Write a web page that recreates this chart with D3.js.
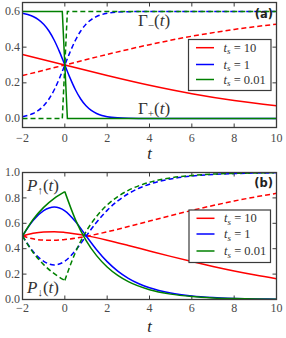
<!DOCTYPE html>
<html><head><meta charset="utf-8">
<script src="https://cdnjs.cloudflare.com/ajax/libs/d3/7.8.5/d3.min.js"></script>
<style>
body{margin:0;background:#fff;}
svg text{font-family:"Liberation Serif","DejaVu Serif",serif;}
</style></head>
<body>
<svg id="c" width="286" height="338"></svg>
<script>
// ---------- data ----------
const xTicks = [-2, 0, 2, 4, 6, 8, 10];
const yTicksTop = [0.0, 0.2, 0.4, 0.6];
const yTicksBot = [0.0, 0.2, 0.4, 0.6, 0.8, 1.0];
const legendLabels = ["10", "1", "0.01"];
const seriesColors = ["#ff0000", "#0000ff", "#008000"];

// panel (a): rates Γ+(t) (solid) and Γ−(t) (dashed)
const tRedA = [-2, 0, 2, 4, 6, 8, 10];
const gPlusRed = [0.3592, 0.3, 0.2408, 0.1860, 0.1389, 0.1008, 0.0715];
const gMinusRed = [0.2408, 0.3, 0.3592, 0.4140, 0.4611, 0.4992, 0.5285];

const tBlueA = [-2, -1.75, -1.5, -1.25, -1, -0.75, -0.5, -0.25, 0, 0.25, 0.5, 0.75, 1, 1.25, 1.5, 1.75, 2, 2.5, 3, 4, 6, 10];
const gPlusBlue = [0.5892, 0.5824, 0.5715, 0.5545, 0.5285, 0.4905, 0.4386, 0.3735, 0.3, 0.2265, 0.1614, 0.1095, 0.0715, 0.0455, 0.0285, 0.0176, 0.0108, 0.0040, 0.0015, 0.0002, 0, 0];
const gMinusBlue = [0.0108, 0.0176, 0.0285, 0.0455, 0.0715, 0.1095, 0.1614, 0.2265, 0.3, 0.3735, 0.4386, 0.4905, 0.5285, 0.5545, 0.5715, 0.5824, 0.5892, 0.5960, 0.5985, 0.5998, 0.6, 0.6];

const tGreenA = [-2, -0.12, 0.12, 10];
const gPlusGreen = [0.6, 0.6, 0, 0];
const gMinusGreen = [0, 0, 0.6, 0.6];

// panel (b): populations P↑(t) (solid) and P↓(t) (dashed)
const tRedB = [-2, -1.5, -1, -0.5, 0, 1, 2, 3, 4, 5, 6, 7, 8, 9, 10];
const pUpRed = [0.5, 0.5223, 0.5324, 0.5335, 0.5279, 0.5029, 0.4671, 0.4257, 0.3825, 0.3397, 0.2985, 0.2599, 0.2245, 0.1925, 0.1640];
const pDownRed = [0.5, 0.4777, 0.4676, 0.4665, 0.4721, 0.4971, 0.5329, 0.5743, 0.6175, 0.6603, 0.7015, 0.7401, 0.7755, 0.8075, 0.8360];

const tBlueB = [-2, -1.5, -1, -0.5, 0, 0.5, 1, 1.5, 2, 2.5, 3, 3.5, 4, 5, 6, 7, 8, 9, 10];
const pUpBlue = [0.5, 0.6215, 0.6989, 0.7276, 0.6983, 0.6143, 0.5024, 0.3920, 0.2981, 0.2237, 0.1668, 0.1240, 0.0920, 0.0506, 0.0278, 0.0152, 0.0084, 0.0046, 0.0025];
const pDownBlue = [0.5, 0.3785, 0.3011, 0.2724, 0.3017, 0.3857, 0.4976, 0.6080, 0.7019, 0.7763, 0.8332, 0.8760, 0.9080, 0.9494, 0.9722, 0.9848, 0.9916, 0.9954, 0.9975];

const tGreenB = [-2, -1.5, -1, -0.5, 0, 0.5, 1, 1.5, 2, 2.5, 3, 4, 5, 6, 7, 8, 9, 10];
const pUpGreen = [0.5, 0.6296, 0.7256, 0.7967, 0.8494, 0.6292, 0.4661, 0.3454, 0.2558, 0.1895, 0.1404, 0.0770, 0.0423, 0.0232, 0.0127, 0.0070, 0.0038, 0.0021];
const pDownGreen = [0.5, 0.3704, 0.2744, 0.2033, 0.1506, 0.3708, 0.5339, 0.6546, 0.7442, 0.8105, 0.8596, 0.9230, 0.9577, 0.9768, 0.9873, 0.9930, 0.9962, 0.9979];

// ---------- drawing ----------
const svg = d3.select("#c");
const frameColor = "#3a3a3a";
const textColor = "#4a4a4a";
const x = d3.scaleLinear().domain([-2, 10]).range([22.5, 276.5]);

function fmtX(v){ return v < 0 ? "\u2212" + Math.abs(v) : String(v); }

function panel(y, yTicks, labelBase, tLabelBase) {
  const g = svg.append("g");
  const [y0, y1] = y.range();
  const x0 = x.range()[0], x1 = x.range()[1];
  const tl = 4;
  xTicks.forEach(v => {
    g.append("line").attr("x1", x(v)).attr("x2", x(v)).attr("y1", y0).attr("y2", y0 - tl)
      .attr("stroke", frameColor).attr("stroke-width", 1);
    g.append("line").attr("x1", x(v)).attr("x2", x(v)).attr("y1", y1).attr("y2", y1 + tl)
      .attr("stroke", frameColor).attr("stroke-width", 1);
    g.append("text").attr("x", x(v)).attr("y", labelBase).attr("text-anchor", "middle")
      .attr("font-size", 12).attr("fill", textColor).text(fmtX(v));
  });
  yTicks.forEach(v => {
    g.append("line").attr("x1", x0).attr("x2", x0 + tl).attr("y1", y(v)).attr("y2", y(v))
      .attr("stroke", frameColor).attr("stroke-width", 1);
    g.append("line").attr("x1", x1).attr("x2", x1 - tl).attr("y1", y(v)).attr("y2", y(v))
      .attr("stroke", frameColor).attr("stroke-width", 1);
    g.append("text").attr("x", 20).attr("y", y(v) + 3.6).attr("text-anchor", "end")
      .attr("font-size", 12).attr("fill", textColor).text(v.toFixed(1));
  });
  g.append("text").attr("x", x(4)).attr("y", tLabelBase).attr("text-anchor", "middle")
    .attr("font-size", 16.5).attr("font-style", "italic").attr("fill", "#222").text("t");
  return g;
}

function drawLine(g, y, ts, vs, color, dashed, curve, splitAt) {
  const pts = ts.map((t, i) => [t, vs[i]]);
  const segs = [];
  if (splitAt !== undefined) {
    segs.push(pts.filter(p => p[0] <= splitAt));
    segs.push(pts.filter(p => p[0] >= splitAt));
  } else segs.push(pts);
  const line = d3.line().x(d => x(d[0])).y(d => y(d[1])).curve(curve);
  const path = segs.map(s => line(s)).join("");
  g.append("path").attr("d", path).attr("fill", "none").attr("stroke", color)
    .attr("stroke-width", 1.5).attr("stroke-dasharray", dashed ? "5,3" : null)
    .attr("stroke-linejoin", "miter");
}

function frame(g, y) {
  const [y0, y1] = y.range();
  g.append("rect").attr("x", x.range()[0]).attr("y", y1).attr("width", x.range()[1] - x.range()[0])
    .attr("height", y0 - y1).attr("fill", "none").attr("stroke", frameColor).attr("stroke-width", 1.3);
}

function legend(g, bx, by, bw, bh, rowYs) {
  g.append("rect").attr("x", bx).attr("y", by).attr("width", bw).attr("height", bh)
    .attr("fill", "#fff").attr("stroke", frameColor).attr("stroke-width", 1.2);
  legendLabels.forEach((lab, i) => {
    g.append("line").attr("x1", bx + 7.5).attr("x2", bx + 25.5).attr("y1", rowYs[i]).attr("y2", rowYs[i])
      .attr("stroke", seriesColors[i]).attr("stroke-width", 1.5);
    const t = g.append("text").attr("x", bx + 35).attr("y", rowYs[i] + 4).attr("font-size", 12.5).attr("fill", "#333");
    t.append("tspan").attr("font-style", "italic").text("t");
    t.append("tspan").attr("font-style", "italic").attr("font-size", 9).attr("dy", 2.5).text("s");
    t.append("tspan").attr("dy", -2.5).text(" = " + lab);
  });
}

function tagLabel(g, xx, yy, s) {
  g.append("text").attr("x", xx).attr("y", yy).attr("text-anchor", "end")
    .attr("font-weight", "bold").attr("font-size", 11.5).attr("fill", "#222")
    .style("font-family", "'DejaVu Sans', sans-serif").text(s);
}

// Panel (a)
const yA = d3.scaleLinear().domain([-0.05, 0.65]).range([127.5, 2.5]);
const gA = panel(yA, yTicksTop, 141.5, 158.5);
const mono = d3.curveMonotoneX;
drawLine(gA, yA, tRedA, gPlusRed, seriesColors[0], false, mono);
drawLine(gA, yA, tRedA, gMinusRed, seriesColors[0], true, mono);
drawLine(gA, yA, tBlueA, gPlusBlue, seriesColors[1], false, mono);
drawLine(gA, yA, tBlueA, gMinusBlue, seriesColors[1], true, mono);
drawLine(gA, yA, tGreenA, gPlusGreen, seriesColors[2], false, d3.curveLinear);
drawLine(gA, yA, tGreenA, gMinusGreen, seriesColors[2], true, d3.curveLinear);
frame(gA, yA);
function gammaLabel(g, xx, yy, sub) {
  const t = g.append("text").attr("x", xx).attr("y", yy).attr("font-size", 17).attr("fill", "#333");
  t.append("tspan").text("\u0393");
  t.append("tspan").attr("font-size", 11).attr("dy", 3).text(sub);
  t.append("tspan").attr("dy", -3).text("(");
  t.append("tspan").attr("font-style", "italic").text("t");
  t.append("tspan").text(")");
}
gammaLabel(gA, 138, 26, "\u2212");
gammaLabel(gA, 138, 114, "+");
legend(gA, 188.5, 39.5, 82.5, 51, [47.7, 64.5, 79.5]);
tagLabel(gA, 273, 18, "(a)");

// Panel (b)
const yB = d3.scaleLinear().domain([0, 1]).range([299.5, 172.5]);
const gB = panel(yB, yTicksBot, 312, 331.5);
drawLine(gB, yB, tRedB, pUpRed, seriesColors[0], false, mono);
drawLine(gB, yB, tRedB, pDownRed, seriesColors[0], true, mono);
drawLine(gB, yB, tBlueB, pUpBlue, seriesColors[1], false, mono);
drawLine(gB, yB, tBlueB, pDownBlue, seriesColors[1], true, mono);
drawLine(gB, yB, tGreenB, pUpGreen, seriesColors[2], false, mono, 0);
drawLine(gB, yB, tGreenB, pDownGreen, seriesColors[2], true, mono, 0);
frame(gB, yB);
function pLabel(g, xx, yy, arrow) {
  const t = g.append("text").attr("x", xx).attr("y", yy).attr("font-size", 17).attr("fill", "#333");
  t.append("tspan").attr("font-style", "italic").text("P");
  t.append("tspan").attr("font-size", 11).attr("dy", 3).text(arrow);
  t.append("tspan").attr("dy", -3).text("(");
  t.append("tspan").attr("font-style", "italic").text("t");
  t.append("tspan").text(")");
}
pLabel(gB, 27, 191, "\u2191");
pLabel(gB, 27, 293, "\u2193");
legend(gB, 189, 210, 81.5, 52.5, [218.3, 234, 251]);
tagLabel(gB, 273, 187, "(b)");
</script>
</body></html>
